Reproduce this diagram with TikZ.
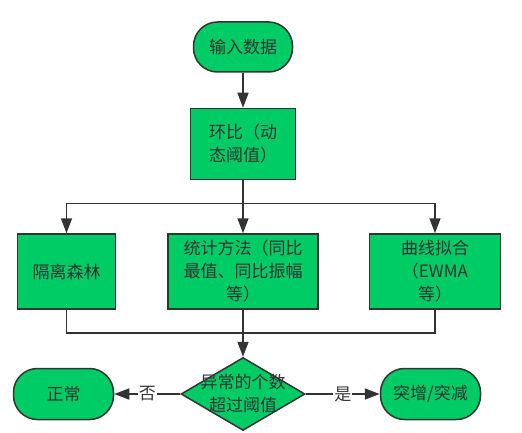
\documentclass[tikz,border=0pt]{standalone}
\usepackage{fontspec}
\setmainfont{Noto Sans CJK SC}
\usetikzlibrary{positioning,shapes.geometric,arrows.meta}
\definecolor{flowGreen}{RGB}{0, 204, 102}
\definecolor{flowLine}{RGB}{51, 51, 51}

\begin{document}
\begin{tikzpicture}[x=1pt, y=1pt,
    every node/.style={font=\fontsize{17pt}{23pt}\selectfont, text=flowLine},
    terminal/.style={draw=flowLine, line width=1.5pt, fill=flowGreen, rounded corners=24pt, minimum width=99pt, minimum height=50pt},
    process/.style={draw=flowLine, line width=1.5pt, fill=flowGreen, minimum height=75pt, align=center},
    decision/.style={draw=flowLine, line width=1.5pt, fill=flowGreen, diamond, aspect=1.7, inner sep=0pt, minimum width=124pt, minimum height=73pt},
    arrow/.style={-{Triangle[length=15pt, width=11pt]}, line width=1.5pt, draw=flowLine},
    link/.style={line width=1.5pt, draw=flowLine}]
    \useasboundingbox (0,0) rectangle (522,-433);
    \node[terminal] (input) at (243,-47) {输入数据};
    \node[process, below=35pt of input, minimum width=105pt, minimum height=71pt] (ratio) {环比（动\\态阈值）};
    \node[process, below=53pt of ratio, minimum width=150pt] (stat) {统计方法（同比\\最值、同比振幅\\等）};
    \node[process, left=51pt of stat, minimum width=98pt] (iso) {隔离森林};
    \node[process, right=50pt of stat, minimum width=131pt] (curve) {曲线拟合\\（EWMA\\等）};
    \coordinate[below=23pt of ratio] (split);
    \coordinate[below=23pt of stat] (merge);
    \node[decision, below=47pt of stat] (check) {};
    \node[align=center] (checktext) at (check) {异常的个数\\超过阈值};
    \node[terminal, left=66pt of check, minimum width=100pt, minimum height=51pt] (normal) {正常};
    \node[terminal, right=74pt of check, minimum width=100pt, minimum height=51pt] (spike) {突增/突减};
    \draw[arrow] (input) -- (ratio);
    \draw[arrow] (ratio) -- (stat);
    \draw[arrow] (split) -| (iso);
    \draw[arrow] (split) -| (curve);
    \draw[link] (iso.south) |- (merge) -| (curve.south);
    \draw[arrow] (stat) -- (check);
    \draw[arrow] (check) -- node[fill=white, inner sep=1pt] {否} (normal);
    \draw[arrow] (check) -- node[fill=white, inner sep=1pt] {是} (spike);
\end{tikzpicture}
\end{document}
